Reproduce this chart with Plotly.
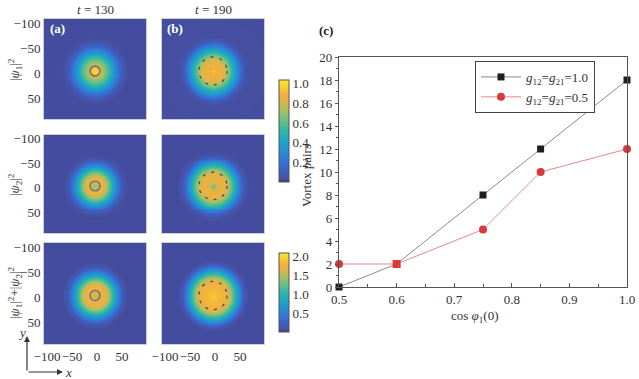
import numpy as np
import plotly.graph_objects as go

W, H = 639, 379

# ---------------- data ----------------
cos_phi = [0.5, 0.6, 0.75, 0.85, 1.0]
pairs_g10 = [0, 2, 8, 12, 18]
pairs_g05 = [2, 2, 5, 10, 12]

# radial density profiles (radius in grid units)
R_A1 = [0, 6, 10, 16, 24, 32, 40, 50, 60, 66, 300]
V_A1 = [1.0, 0.95, 0.82, 0.72, 0.6, 0.45, 0.3, 0.14, 0.04, 0.025, 0.025]
R_B1 = [0, 3, 6, 12, 20, 26, 32, 38, 44, 50, 56, 62, 68, 300]
V_B1 = [0.97, 0.92, 0.88, 0.86, 0.84, 0.76, 0.64, 0.5, 0.38, 0.26, 0.15, 0.07, 0.03, 0.025]
R_A2 = [0, 6, 10, 14, 20, 28, 36, 44, 52, 58, 65, 300]
V_A2 = [0.72, 0.75, 0.8, 0.88, 0.8, 0.62, 0.42, 0.24, 0.1, 0.04, 0.025, 0.025]
R_B2 = [0, 4, 8, 16, 24, 30, 36, 42, 48, 54, 60, 66, 72, 300]
V_B2 = [0.62, 0.7, 0.82, 0.86, 0.84, 0.76, 0.62, 0.48, 0.34, 0.2, 0.1, 0.04, 0.025, 0.025]
R_A3 = [0, 6, 10, 14, 22, 28, 34, 40, 48, 56, 64, 300]
V_A3 = [1.55, 1.6, 1.68, 1.75, 1.65, 1.4, 1.1, 0.8, 0.45, 0.15, 0.05, 0.05]
R_B3 = [0, 6, 14, 22, 28, 34, 40, 46, 52, 58, 64, 70, 300]
V_B3 = [1.95, 1.85, 1.8, 1.78, 1.7, 1.5, 1.2, 0.9, 0.6, 0.32, 0.12, 0.05, 0.05]

ring_radius_a = 10
ring_radius_b = 28
center = (-4, -4)

map_ticks = [-100, -50, 0, 50]
cb1_ticks = [0.2, 0.4, 0.6, 0.8, 1.0]
cb2_ticks = [0.5, 1.0, 1.5, 2.0]

# ---------------- helpers ----------------
def px(x):
    return x / W

def py(y):
    return 1 - y / H

grid = np.linspace(-108, 100, 105)
GX, GY = np.meshgrid(grid, grid)
RR = np.hypot(GX - center[0], GY - center[1])

def field(R, V):
    return np.interp(RR, R, V)

parula_like = [
    [0.0, '#363a8a'], [0.03, '#4651a3'], [0.12, '#3d60c4'], [0.2, '#3575d4'],
    [0.3, '#2590d2'], [0.4, '#1ca6c4'], [0.5, '#30b6a6'], [0.6, '#66bf86'],
    [0.7, '#a9bf62'], [0.78, '#dcb448'], [0.85, '#f2b03e'], [0.92, '#f8c834'],
    [1.0, '#f6ec22'],
]

SERIF = 'Liberation Serif'
TXT = '#333333'

fig = go.Figure()

panels = [
    ('x', 'y', R_A1, V_A1, 'coloraxis'),
    ('x2', 'y2', R_B1, V_B1, 'coloraxis'),
    ('x3', 'y3', R_A2, V_A2, 'coloraxis'),
    ('x4', 'y4', R_B2, V_B2, 'coloraxis'),
    ('x5', 'y5', R_A3, V_A3, 'coloraxis2'),
    ('x6', 'y6', R_B3, V_B3, 'coloraxis2'),
]
for xa, ya, R, V, ca in panels:
    fig.add_trace(go.Heatmap(x=grid, y=grid, z=field(R, V), coloraxis=ca,
                             zsmooth='best', xaxis=xa, yaxis=ya, hoverinfo='skip'))

# vortex rings
shapes = []
for i, (xa, ya, *_r) in enumerate(panels):
    solid = (i % 2 == 0)
    rr = ring_radius_a if solid else ring_radius_b
    shapes.append(dict(type='circle', xref=xa, yref=ya,
                       x0=center[0] - rr, x1=center[0] + rr,
                       y0=center[1] - rr, y1=center[1] + rr,
                       line=dict(color='#5f6a8e' if solid else '#3a4888',
                                 width=1.3,
                                 dash='solid' if solid else '3px,6px')))

# line chart
fig.add_trace(go.Scatter(x=cos_phi, y=pairs_g10, mode='lines+markers', xaxis='x7', yaxis='y7',
                         name='<i>g</i><sub>12</sub>=<i>g</i><sub>21</sub>=1.0',
                         line=dict(color='#8a8a8a', width=1),
                         marker=dict(symbol='square', size=7, color='#1e1e1e'),
                         cliponaxis=False))
fig.add_trace(go.Scatter(x=cos_phi, y=pairs_g05, mode='lines+markers', xaxis='x7', yaxis='y7',
                         name='<i>g</i><sub>12</sub>=<i>g</i><sub>21</sub>=0.5',
                         line=dict(color='#e58a8a', width=1),
                         marker=dict(symbol=['circle', 'square', 'circle', 'circle', 'circle'],
                                     size=8, color='#d83a3a'),
                         cliponaxis=False))

col_dom = [[px(44), px(146)], [px(162), px(264)]]
row_dom = [[py(119), py(19)], [py(233), py(135)], [py(344), py(243)]]

layout = dict(
    width=W, height=H, margin=dict(l=0, r=0, t=0, b=0),
    template='none', paper_bgcolor='white', plot_bgcolor='white',
    font=dict(family=SERIF, size=13, color=TXT),
    showlegend=True,
    legend=dict(x=px(475), y=py(61), xanchor='left', yanchor='top',
                bgcolor='white', bordercolor='#444444', borderwidth=1,
                font=dict(family=SERIF, size=13, color=TXT),
                tracegroupgap=0, itemwidth=40),
    coloraxis=dict(colorscale=parula_like, cmin=0.0, cmax=1.04,
                   colorbar=dict(x=px(269), xanchor='left', y=py(131), yanchor='middle',
                                 len=122, lenmode='pixels', thickness=10,
                                 outlinecolor='#555555', outlinewidth=1,
                                 tickvals=cb1_ticks, tickformat='.1f', ticks='',
                                 tickfont=dict(family=SERIF, size=13, color=TXT))),
    coloraxis2=dict(colorscale=parula_like, cmin=0.0, cmax=2.08,
                    colorbar=dict(x=px(269), xanchor='left', y=py(292.5), yanchor='middle',
                                  len=99, lenmode='pixels', thickness=10,
                                  outlinecolor='#555555', outlinewidth=1,
                                  tickvals=cb2_ticks, tickformat='.1f', ticks='',
                                  tickfont=dict(family=SERIF, size=13, color=TXT))),
    shapes=shapes,
)

k = 0
for r in range(3):
    for c in range(2):
        k += 1
        sx = '' if k == 1 else str(k)
        layout['xaxis' + sx] = dict(domain=col_dom[c], range=[-106, 98], anchor='y' + sx,
                                    showgrid=False, zeroline=False, showline=True, mirror=True,
                                    linecolor='#cfcfcf', linewidth=1, ticks='', tickangle=0,
                                    tickvals=map_ticks, showticklabels=(r == 2),
                                    ticklabeloverflow='allow',
                                    tickfont=dict(family=SERIF, size=13, color=TXT),
                                    automargin=False)
        layout['yaxis' + sx] = dict(domain=row_dom[r], range=[92, -108], anchor='x' + sx,
                                    showgrid=False, zeroline=False, showline=True, mirror=True,
                                    linecolor='#cfcfcf', linewidth=1, ticks='',
                                    tickvals=map_ticks, showticklabels=(c == 0),
                                    ticklabeloverflow='allow',
                                    tickfont=dict(family=SERIF, size=13, color=TXT),
                                    automargin=False)

layout['xaxis7'] = dict(domain=[px(339), px(627)], range=[0.5, 1.0], anchor='y7',
                        dtick=0.1, tick0=0.5, tickformat='.1f', ticks='inside', ticklen=4,
                        minor=dict(dtick=0.05, ticks='inside', ticklen=3, tickcolor='#555555'),
                        showgrid=False, zeroline=False, showline=True, mirror=True,
                        linecolor='#555555', linewidth=1.2, tickcolor='#555555', tickangle=0,
                        ticklabeloverflow='allow',
                        tickfont=dict(family=SERIF, size=13, color=TXT), automargin=False)
layout['yaxis7'] = dict(domain=[py(287), py(57)], range=[0, 20], anchor='x7',
                        dtick=2, ticks='outside', ticklen=3,
                        minor=dict(dtick=1, ticks='outside', ticklen=2, tickcolor='#555555'),
                        showgrid=False, zeroline=False, showline=True, mirror=True,
                        linecolor='#555555', linewidth=1.2, tickcolor='#555555',
                        ticklabeloverflow='allow',
                        tickfont=dict(family=SERIF, size=13, color=TXT), automargin=False)

ann = []
def text(x, y, s, size=13, color=TXT, angle=0, bold=False):
    ann.append(dict(x=px(x), y=py(y), xref='paper', yref='paper', text=('<b>%s</b>' % s) if bold else s,
                    showarrow=False, textangle=angle, xanchor='center', yanchor='middle',
                    font=dict(family=SERIF, size=size, color=color)))

text(95, 9, '<i>t</i> = 130')
text(213, 9, '<i>t</i> = 190')
text(57, 29, '(a)', color='white', bold=True)
text(175, 29, '(b)', color='white', bold=True)
text(326, 30, '(c)', color='#222222', bold=True)
text(15, 70, '|<i>ψ</i><sub>1</sub>|<sup>2</sup>', angle=-90)
text(15, 185, '|<i>ψ</i><sub>2</sub>|<sup>2</sup>', angle=-90)
text(15, 293, '|<i>ψ</i><sub>1</sub>|<sup>2</sup>+|<i>ψ</i><sub>2</sub>|<sup>2</sup>', angle=-90)
text(22, 332, '<i>y</i>')
text(68, 372, '<i>x</i>')
text(306, 176, 'Vortex pairs', angle=-90)
text(475, 316, 'cos <i>φ</i><sub>1</sub>(0)')

# coordinate arrows
ann.append(dict(x=px(27), y=py(336), xref='paper', yref='paper', ax=0, ay=36,
                showarrow=True, arrowhead=2, arrowsize=1, arrowwidth=1.2, arrowcolor='#333333', text=''))
ann.append(dict(x=px(63), y=py(372), xref='paper', yref='paper', ax=-36, ay=0,
                showarrow=True, arrowhead=2, arrowsize=1, arrowwidth=1.2, arrowcolor='#333333', text=''))
layout['annotations'] = ann

fig.update_layout(**layout)
fig.write_html('out.html', config={'displayModeBar': False},
               post_script="document.body.style.margin='0px';")
